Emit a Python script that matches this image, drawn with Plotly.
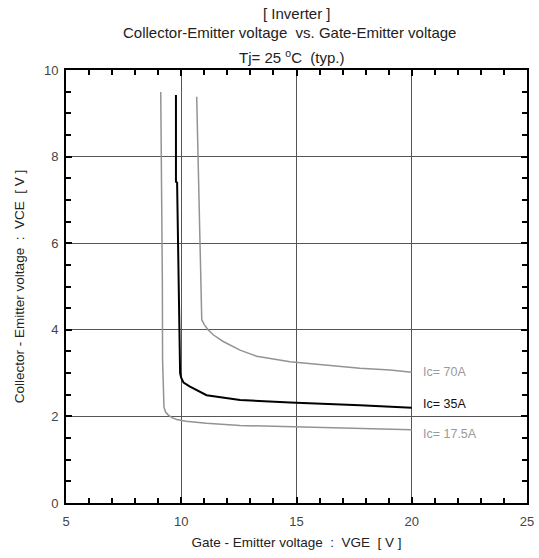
import plotly.graph_objects as go

# ---- data ----
vge_17_5 = [9.11, 9.13, 9.15, 9.18, 9.19, 9.22, 9.25, 9.32, 9.44, 9.6, 9.8, 10.2, 11.1, 12.55, 14.72, 17.75, 19.2, 20.0]
vce_17_5 = [9.49, 8.5, 7.3, 5.15, 3.3, 2.6, 2.22, 2.1, 2.03, 1.97, 1.93, 1.89, 1.84, 1.79, 1.76, 1.72, 1.71, 1.69]

vge_35 = [9.77, 9.77, 9.82, 9.87, 9.92, 9.95, 10.0, 10.1, 10.38, 11.1, 12.55, 14.72, 17.75, 19.2, 20.0]
vce_35 = [9.42, 7.42, 7.4, 5.34, 3.15, 3.0, 2.89, 2.78, 2.69, 2.49, 2.38, 2.32, 2.26, 2.22, 2.2]

vge_70 = [10.67, 10.72, 10.78, 10.83, 10.86, 10.89, 11.0, 11.16, 11.4, 11.82, 12.55, 13.27, 14.72, 17.75, 19.06, 20.0]
vce_70 = [9.38, 8.2, 6.81, 5.57, 4.8, 4.23, 4.12, 4.0, 3.88, 3.73, 3.53, 3.39, 3.26, 3.11, 3.07, 3.02]

series_labels = ["Ic= 17.5A", "Ic= 35A", "Ic= 70A"]
label_y = [1.59, 2.29, 3.03]
label_x = 20.4

NB = "\u00a0"
title_lines = ["[ Inverter ]",
               "Collector-Emitter voltage " + NB + "vs. Gate-Emitter voltage",
               "Tj= 25 <sup>o</sup>C " + NB + "(typ.)"]
x_title = "Gate - Emitter voltage " + NB + ": " + NB + "VGE " + NB + "[ V ]"
y_title = "Collector - Emitter voltage " + NB + ": " + NB + "VCE " + NB + "[ V ]"

FONT = "Liberation Sans, Arial, Helvetica, sans-serif"

fig = go.Figure()
fig.add_trace(go.Scatter(x=vge_17_5, y=vce_17_5, mode="lines",
                         line=dict(color="#939393", width=1.5), name=series_labels[0]))
fig.add_trace(go.Scatter(x=vge_35, y=vce_35, mode="lines",
                         line=dict(color="#000000", width=2), name=series_labels[1]))
fig.add_trace(go.Scatter(x=vge_70, y=vce_70, mode="lines",
                         line=dict(color="#939393", width=1.5), name=series_labels[2]))

label_colors = ["#9a9a9a", "#111111", "#9a9a9a"]
for txt, yy, c in zip(series_labels, label_y, label_colors):
    fig.add_annotation(x=label_x, y=yy, text=txt, showarrow=False, xanchor="left", yanchor="middle",
                       font=dict(family=FONT, size=12.5, color=c))

title_x = [0.5, 0.485, 0.49]
title_y = [1.1316, 1.0855, 1.0323]
for txt, xx, yy in zip(title_lines, title_x, title_y):
    fig.add_annotation(x=xx, y=yy, xref="paper", yref="paper", text=txt, showarrow=False,
                       xanchor="center", yanchor="middle", font=dict(family=FONT, size=15, color="#222"))

axis_common = dict(
    showline=True, linecolor="black", linewidth=2, mirror="allticks",
    ticks="inside", ticklen=6, tickwidth=2, tickcolor="black",
    showgrid=True, gridcolor="#555555", gridwidth=1, zeroline=False,
    tickfont=dict(family=FONT, size=13, color="#444"),
)

fig.update_xaxes(range=[5, 25], tick0=5, dtick=5, ticklabelstandoff=5,
                 minor=dict(dtick=1, ticks="inside", ticklen=5, tickwidth=2, tickcolor="black", showgrid=False),
                 title=dict(text=x_title, font=dict(family=FONT, size=13.5, color="#222"), standoff=10),
                 **axis_common)
fig.update_yaxes(range=[0, 10], tick0=0, dtick=2, ticklabelstandoff=3,
                 minor=dict(dtick=0.5, ticks="inside", ticklen=5, tickwidth=2, tickcolor="black", showgrid=False),
                 title=dict(text=y_title, font=dict(family=FONT, size=13.5, color="#222"), standoff=16),
                 **axis_common)

fig.update_layout(width=539, height=558, margin=dict(l=66, r=12, t=70, b=55, autoexpand=False),
                  paper_bgcolor="white", plot_bgcolor="white", showlegend=False,
                  font=dict(family=FONT, size=12))

fig.write_html("out.html", config={"displayModeBar": False},
               post_script="document.body.style.margin='0';document.body.style.padding='0';document.body.style.overflow='hidden';")
